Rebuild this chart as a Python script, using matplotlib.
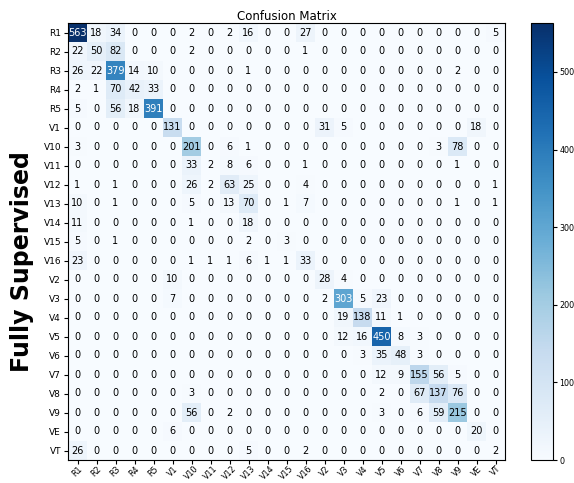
import matplotlib
matplotlib.use("Agg")
import matplotlib.pyplot as plt
import numpy as np

classes = ["R1", "R2", "R3", "R4", "R5", "V1", "V10", "V11", "V12", "V13", "V14",
           "V15", "V16", "V2", "V3", "V4", "V5", "V6", "V7", "V8", "V9", "VE", "VT"]

# rows = true class, columns = predicted class (same order as classes)
cm = np.array([
    [563, 18, 34, 0, 0, 0, 2, 0, 2, 16, 0, 0, 27, 0, 0, 0, 0, 0, 0, 0, 0, 0, 5],
    [22, 50, 82, 0, 0, 0, 2, 0, 0, 0, 0, 0, 1, 0, 0, 0, 0, 0, 0, 0, 0, 0, 0],
    [26, 22, 379, 14, 10, 0, 0, 0, 0, 1, 0, 0, 0, 0, 0, 0, 0, 0, 0, 0, 2, 0, 0],
    [2, 1, 70, 42, 33, 0, 0, 0, 0, 0, 0, 0, 0, 0, 0, 0, 0, 0, 0, 0, 0, 0, 0],
    [5, 0, 56, 18, 391, 0, 0, 0, 0, 0, 0, 0, 0, 0, 0, 0, 0, 0, 0, 0, 0, 0, 0],
    [0, 0, 0, 0, 0, 131, 0, 0, 0, 0, 0, 0, 0, 31, 5, 0, 0, 0, 0, 0, 0, 18, 0],
    [3, 0, 0, 0, 0, 0, 201, 0, 6, 1, 0, 0, 0, 0, 0, 0, 0, 0, 0, 3, 78, 0, 0],
    [0, 0, 0, 0, 0, 0, 33, 2, 8, 6, 0, 0, 1, 0, 0, 0, 0, 0, 0, 0, 1, 0, 0],
    [1, 0, 1, 0, 0, 0, 26, 2, 63, 25, 0, 0, 4, 0, 0, 0, 0, 0, 0, 0, 0, 0, 1],
    [10, 0, 1, 0, 0, 0, 5, 0, 13, 70, 0, 1, 7, 0, 0, 0, 0, 0, 0, 0, 1, 0, 1],
    [11, 0, 0, 0, 0, 0, 1, 0, 0, 18, 0, 0, 0, 0, 0, 0, 0, 0, 0, 0, 0, 0, 0],
    [5, 0, 1, 0, 0, 0, 0, 0, 0, 2, 0, 3, 0, 0, 0, 0, 0, 0, 0, 0, 0, 0, 0],
    [23, 0, 0, 0, 0, 0, 1, 1, 1, 6, 1, 1, 33, 0, 0, 0, 0, 0, 0, 0, 0, 0, 0],
    [0, 0, 0, 0, 0, 10, 0, 0, 0, 0, 0, 0, 0, 28, 4, 0, 0, 0, 0, 0, 0, 0, 0],
    [0, 0, 0, 0, 0, 7, 0, 0, 0, 0, 0, 0, 0, 2, 303, 5, 23, 0, 0, 0, 0, 0, 0],
    [0, 0, 0, 0, 0, 0, 0, 0, 0, 0, 0, 0, 0, 0, 19, 138, 11, 1, 0, 0, 0, 0, 0],
    [0, 0, 0, 0, 0, 0, 0, 0, 0, 0, 0, 0, 0, 0, 12, 16, 450, 8, 3, 0, 0, 0, 0],
    [0, 0, 0, 0, 0, 0, 0, 0, 0, 0, 0, 0, 0, 0, 0, 3, 35, 48, 3, 0, 0, 0, 0],
    [0, 0, 0, 0, 0, 0, 0, 0, 0, 0, 0, 0, 0, 0, 0, 0, 12, 9, 155, 56, 5, 0, 0],
    [0, 0, 0, 0, 0, 0, 3, 0, 0, 0, 0, 0, 0, 0, 0, 0, 2, 0, 67, 137, 76, 0, 0],
    [0, 0, 0, 0, 0, 0, 56, 0, 2, 0, 0, 0, 0, 0, 0, 0, 3, 0, 6, 59, 215, 0, 0],
    [0, 0, 0, 0, 0, 6, 0, 0, 0, 0, 0, 0, 0, 0, 0, 0, 0, 0, 0, 0, 0, 20, 0],
    [26, 0, 0, 0, 0, 0, 0, 0, 0, 5, 0, 0, 2, 0, 0, 0, 0, 0, 0, 0, 0, 0, 2],
])

W, H = 574, 483
fig = plt.figure(figsize=(W / 100, H / 100), dpi=100)

ax = fig.add_axes([68 / W, 23 / H, 437 / W, 437 / H])
cax = fig.add_axes([531 / W, 23 / H, 22 / W, 437 / H])

im = ax.imshow(cm, interpolation="nearest", cmap="Blues", aspect="auto")
ax.set_title("Confusion Matrix", fontsize=8.5, pad=2)

ticks = np.arange(len(classes))
ax.set_xticks(ticks)
ax.set_xticklabels(classes, rotation=45, fontsize=5.8)
ax.set_yticks(ticks)
ax.set_yticklabels(classes, fontsize=6.5)
ax.tick_params(axis="y", length=3, pad=2)
ax.tick_params(axis="x", length=3, pad=0)

thresh = cm.max() / 2.0
for i in range(cm.shape[0]):
    for j in range(cm.shape[1]):
        ax.text(j, i, format(cm[i, j], "d"), ha="center", va="center",
                fontsize=7, color="white" if cm[i, j] > thresh else "black")

cb = fig.colorbar(im, cax=cax)
cb.ax.tick_params(labelsize=5.8, length=3, pad=1.5)

fig.text(22 / W, 1 - 262 / H, "Fully Supervised", rotation=90, fontsize=17,
         fontweight="bold", ha="center", va="center")

fig.savefig("out.png", dpi=100)
